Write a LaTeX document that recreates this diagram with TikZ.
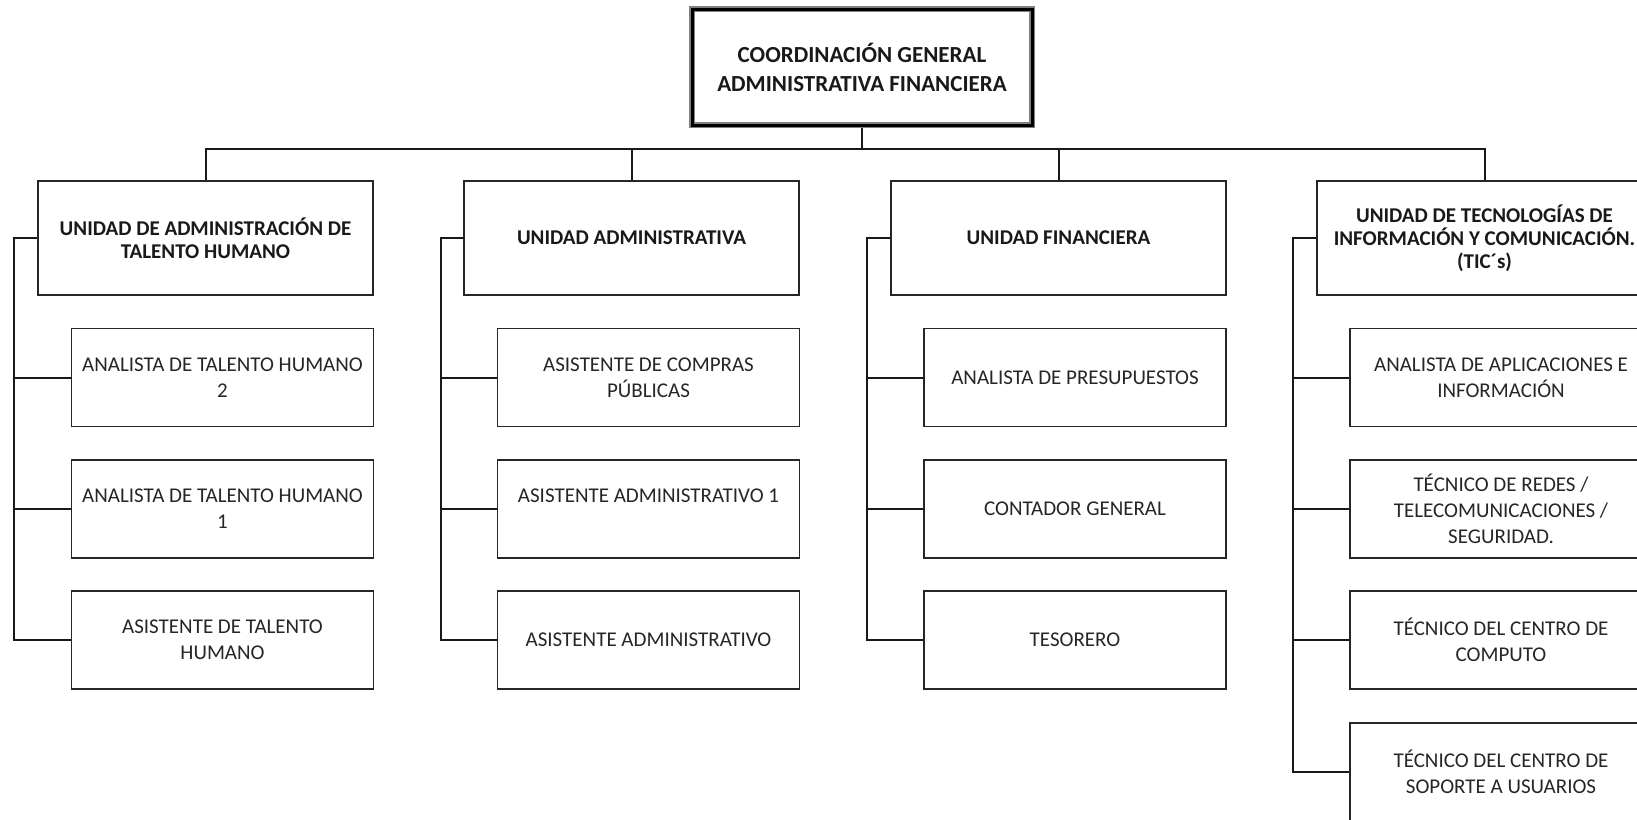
\documentclass[tikz,border=0pt]{standalone}
\usepackage{fontspec}
\setmainfont{Carlito}
\begin{document}
\begin{tikzpicture}[x=0.5pt,y=-0.5pt,
  unitbox/.style={draw=black!85, line width=0.9pt, minimum width=167.5pt, minimum height=57pt, inner sep=0pt, align=flush center, text width=160pt, text=black!90, font=\fontsize{10.5}{11.6}\selectfont\bfseries},
  childbox/.style={draw=black!85, line width=0.9pt, minimum width=151pt, minimum height=49pt, inner sep=0pt, align=flush center, text width=146pt, text=black!85, font=\fontsize{10.5}{13}\selectfont},
  topbox/.style={draw=black!50, line width=3pt, postaction={draw=black, line width=1.5pt}, minimum width=170pt, minimum height=58pt, inner sep=0pt, align=center, text=black!90, font=\fontsize{11.5}{14.5}\selectfont\bfseries},
  conn/.style={draw=black!90, line width=1pt}]
\useasboundingbox (0,0) rectangle (1637,819);
\clip (0,0) rectangle (1637,819);
\fill[white] (0,0) rectangle (1637,819);

% top
\node[topbox] (top) at (862,67) {COORDINACIÓN GENERAL\\ADMINISTRATIVA FINANCIERA};

% units
\node[unitbox] (u1) at (205.5,238) {UNIDAD DE ADMINISTRACIÓN DE\\TALENTO HUMANO};
\node[unitbox] (u2) at (631.5,238) {UNIDAD ADMINISTRATIVA};
\node[unitbox] (u3) at (1058.5,238) {UNIDAD FINANCIERA};
\node[unitbox] (u4) at (1484.5,238) {UNIDAD DE TECNOLOGÍAS DE\\INFORMACIÓN Y COMUNICACIÓN.\\(TIC´s)};

% children column 1
\node[childbox] (c11) at (222.5,377.5) {ANALISTA DE TALENTO HUMANO\\2};
\node[childbox] (c12) at (222.5,509) {ANALISTA DE TALENTO HUMANO\\1};
\node[childbox] (c13) at (222.5,640) {ASISTENTE DE TALENTO\\HUMANO};
% column 2
\node[childbox] (c21) at (648.5,377.5) {ASISTENTE DE COMPRAS\\PÚBLICAS};
\node[childbox] (c22) at (648.5,509) {ASISTENTE ADMINISTRATIVO 1\\\mbox{}};
\node[childbox] (c23) at (648.5,640) {ASISTENTE ADMINISTRATIVO};
% column 3
\node[childbox] (c31) at (1075,377.5) {ANALISTA DE PRESUPUESTOS};
\node[childbox] (c32) at (1075,509) {CONTADOR GENERAL};
\node[childbox] (c33) at (1075,640) {TESORERO};
% column 4
\node[childbox] (c41) at (1501,377.5) {ANALISTA DE APLICACIONES E\\INFORMACIÓN};
\node[childbox] (c42) at (1501,509) {TÉCNICO DE REDES /\\TELECOMUNICACIONES /\\SEGURIDAD.};
\node[childbox] (c43) at (1501,640) {TÉCNICO DEL CENTRO DE\\COMPUTO};
\node[childbox] (c44) at (1501,772) {TÉCNICO DEL CENTRO DE\\SOPORTE A USUARIOS};

% top connectors
\coordinate (hb) at (862,149);
\draw[conn] (top.south) -- (hb);
\draw[conn] (u1.north) |- (hb) -| (u4.north);
\draw[conn] (u2.north) -- (u2.north |- hb);
\draw[conn] (u3.north) -- (u3.north |- hb);

% brackets
\coordinate (b1) at (14,238);
\coordinate (b2) at (441,238);
\coordinate (b3) at (867,238);
\coordinate (b4) at (1293,238);
\draw[conn] (u1.west) -- (b1) |- (c13.west);
\draw[conn] (b1 |- c11.west) -- (c11.west);
\draw[conn] (b1 |- c12.west) -- (c12.west);
\draw[conn] (u2.west) -- (b2) |- (c23.west);
\draw[conn] (b2 |- c21.west) -- (c21.west);
\draw[conn] (b2 |- c22.west) -- (c22.west);
\draw[conn] (u3.west) -- (b3) |- (c33.west);
\draw[conn] (b3 |- c31.west) -- (c31.west);
\draw[conn] (b3 |- c32.west) -- (c32.west);
\draw[conn] (u4.west) -- (b4) |- (c44.west);
\draw[conn] (b4 |- c41.west) -- (c41.west);
\draw[conn] (b4 |- c42.west) -- (c42.west);
\draw[conn] (b4 |- c43.west) -- (c43.west);
\end{tikzpicture}
\end{document}
